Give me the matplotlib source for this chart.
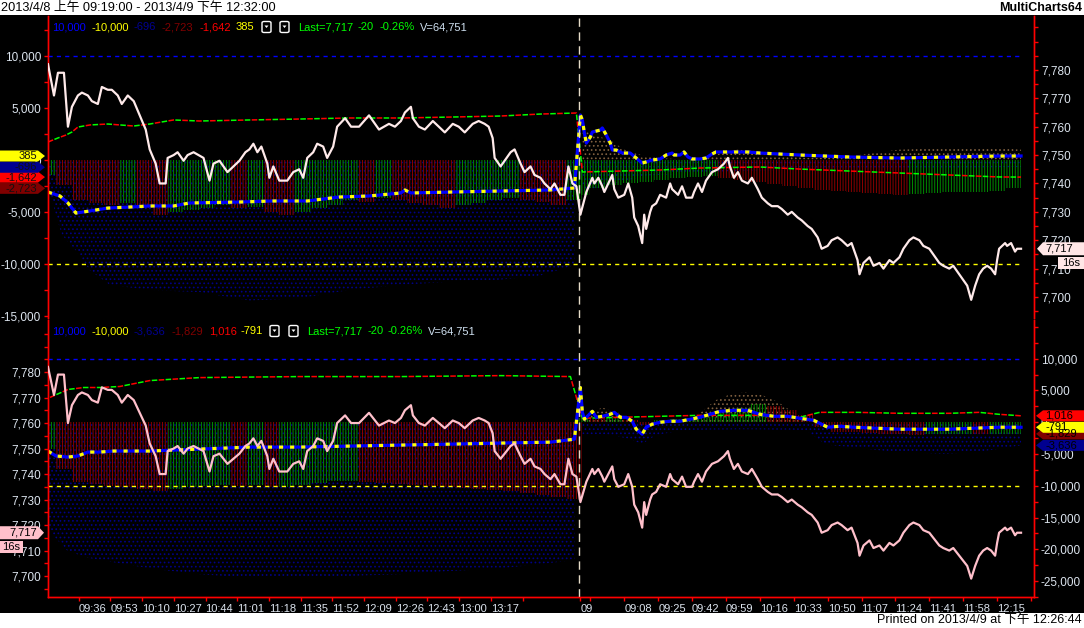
import numpy as np
import matplotlib
matplotlib.use("Agg")
import matplotlib.pyplot as plt
from matplotlib.patches import Polygon, Rectangle, FancyBboxPatch
from matplotlib.ticker import FuncFormatter

plt.rcParams["font.family"] = ["Liberation Sans", "Noto Sans CJK TC", "DejaVu Sans"]
plt.rcParams["hatch.linewidth"] = 0.7
plt.rcParams["lines.scale_dashes"] = False
plt.rcParams["axes.unicode_minus"] = False

# ------------------------------------------------------------------ data
# x = bar index (1-minute slots); day 1 = 2013/4/8 09:19-13:45, day 2 opens 08:45 at bar 266
DAY2_OPEN = 266
nan = np.nan

price_bar = [0, 3, 5, 8, 10, 12, 15, 17, 20, 22, 25, 27, 30, 32, 35, 37, 40, 43, 46, 49, 51, 54, 56, 59, 60,
             63, 65, 68, 70, 73, 78, 81, 83, 86, 90, 93, 96, 99, 101, 103, 105, 107, 110, 111, 113, 116, 120,
             123, 126, 128, 130, 133, 135, 138, 140, 143, 145, 149, 152, 156, 161, 166, 171, 174, 177, 179,
             182, 183, 186, 189, 193, 196, 199, 203, 206, 209, 213, 216, 219, 221, 223, 224, 227, 229, 232,
             234, 237, 239, 242, 244, 247, 249, 252, 254, 257, 259, 261, 263, 265,
             267, 270, 273, 274, 276, 278, 279, 281, 283, 284, 286, 289, 291, 293, 294, 296, 298, 299, 300,
             302, 303, 305, 307, 310, 312, 313, 316, 318, 320, 323, 324, 326, 328, 330, 333, 336, 339, 341,
             342, 344, 346, 348, 351, 353, 356, 358, 361, 363, 366, 368, 371, 373, 376, 378, 381, 383, 386,
             388, 391, 393, 396, 398, 401, 403, 406, 407, 409, 412, 414, 417, 419, 422, 424, 427, 429, 432,
             434, 437, 439, 442, 444, 447, 449, 452, 454, 457, 459, 461, 463, 465, 467, 469, 471, 473, 475,
             476, 477, 480, 481, 483, 485, 486, 488]
price = [7782, 7771, 7779, 7779, 7760, 7767, 7771, 7772, 7771, 7769, 7768, 7774, 7773, 7773, 7771, 7768, 7771,
         7769, 7764, 7759, 7752, 7747, 7740, 7740, 7749, 7750, 7751, 7748, 7750, 7751, 7749, 7741, 7747, 7748,
         7744, 7746, 7748, 7751, 7752, 7754, 7751, 7753, 7747, 7742, 7746, 7741, 7741, 7744, 7745, 7742, 7749,
         7751, 7754, 7753, 7749, 7753, 7760, 7763, 7760, 7760, 7764, 7759, 7761, 7760, 7762, 7765, 7767, 7763,
         7760, 7759, 7762, 7760, 7758, 7761, 7760, 7758, 7761, 7762, 7761, 7760, 7756, 7749, 7746, 7748, 7751,
         7752, 7747, 7744, 7746, 7743, 7742, 7740, 7738, 7740, 7736, 7736, 7746, 7740, 7739,
         7729, 7737, 7742, 7740, 7742, 7739, 7737, 7740, 7743, 7738, 7735, 7736, 7740, 7735, 7728, 7725, 7719,
         7729, 7724, 7730, 7732, 7733, 7736, 7735, 7740, 7738, 7736, 7739, 7735, 7735, 7737, 7740, 7737, 7741,
         7744, 7745, 7747, 7749, 7746, 7742, 7744, 7741, 7740, 7742, 7738, 7735, 7733, 7732, 7732, 7731, 7729,
         7730, 7728, 7727, 7725, 7724, 7721, 7717, 7718, 7720, 7721, 7720, 7718, 7719, 7713, 7708, 7712, 7714,
         7711, 7712, 7710, 7713, 7712, 7714, 7717, 7720, 7721, 7720, 7718, 7717, 7715, 7712, 7711, 7710, 7711,
         7708, 7706, 7704, 7699, 7704, 7708, 7710, 7711, 7710, 7708, 7713, 7717, 7719, 7718, 7719, 7716, 7717,
         7717]

hist_bar = list(range(0, 265, 8)) + list(range(268, 489, 8))

# ---- upper panel indicator (left scale)
up_hist = [-1400, -2400, -3800, -4100, -4300, -4100, -4600, -5300, -5000, -4800, -4600, -4300, -4600, -4500,
           -5000, -5300, -5000, -4600, -4300, -3800, -4000, -3700, -3800, -4100, -4300, -4600, -4300, -4100,
           -3800, -3700, -3800, -4000, -4300, -3800,
           -3400, -2700, -2400, -2200, -2100, -1900, -1700, -1600, -1500, -1700, -1900, -2100, -2300, -2500,
           -2700, -2900, -3000, -3100, -3200, -3300, -3400, -3300, -3200, -3100, -3100, -3100, -3000, -2723]
up_area_bar = [0, 4, 7, 14, 21, 31, 51, 76, 101, 126, 151, 177, 202, 227, 247, 264, 266,
               268, 300, 350, 400, 450, 488]
up_area = [-2400, -5300, -7200, -8700, -10600, -12000, -12500, -12700, -13500, -13300, -12500, -12000,
           -11700, -11500, -11100, -10100, nan, -3000, -1500, -1000, -900, -800, -696]
up_brown_bar = [268, 274, 282, 289, 297, 307, 320, 330, 345, 360, 380, 400, 427, 452, 477, 488]
up_brown = [2900, 2400, 1900, 1000, 500, 200, 0, 300, 1000, 800, 200, 300, 1000, 1150, 1150, 1000]
up_dash_bar = [0, 5, 9, 12, 15, 21, 30, 43, 51, 63, 76, 101, 126, 151, 177, 202, 227, 247, 265,
               268, 287, 307, 327, 357, 377, 402, 427, 452, 477, 488]
up_dash = [1730, 2120, 2400, 2690, 3170, 3370, 3460, 3270, 3460, 3850, 3750, 3850, 3940, 4040, 4040, 4130,
           4230, 4420, 4520, -1150, -1060, -960, -770, -670, -870, -1060, -1250, -1440, -1630, -1642]
up_avg_bar = [0, 6, 10, 14, 21, 30, 41, 51, 63, 71, 96, 113, 130, 138, 146, 161, 177, 179, 182, 202, 227, 252,
              264, 267, 268, 269, 270, 272, 273, 277, 278, 280, 282, 283, 285, 288, 292, 295, 298, 300, 303,
              307, 310, 313, 314, 317, 319, 321, 323, 327, 330, 333, 335, 341, 346, 351, 357, 377, 402, 427,
              452, 477, 488]
up_avg = [-3080, -3460, -4130, -5100, -4900, -4620, -4520, -4420, -4420, -4130, -4040, -3940, -3940, -3750,
          -3560, -3460, -3170, -2880, -3170, -3080, -2980, -2880, -2690,
          4330, 3850, 2600, 1630, 2210, 2690, 2880, 3080, 2400, 1630, 960, 960, 670, 670, 190, -290, -190, 0,
          100, 480, 670, 480, 480, 770, 290, 100, 100, 190, 580, 770, 770, 770, 770, 670, 480, 290, 190, 290,
          380, 385]

# ---- lower panel indicator (right scale)
lo_hist = [-4200, -7300, -9400, -9700, -10000, -10200, -10500, -10800, -10500, -10200, -10000, -9800,
           -10000, -9800, -10200, -10200, -9800, -9500, -9200, -9200, -9400, -9500, -9700, -9800, -10000,
           -10200, -10300, -10500, -10600, -10800, -11100, -11400, -11700, -12000,
           600, 500, 700, 400, -500, 300, 500, 600, 800, 1500, 2200, 2800, 2600, 2000, 1200, -800, -1500,
           -1600, -1700, -1800, -1900, -2000, -1900, -1800, -1800, -1900, -1850, -1829]
lo_area_bar = [0, 4, 10, 21, 36, 51, 76, 101, 126, 151, 177, 202, 227, 247, 264, 266,
               268, 280, 290, 298, 305, 320, 350, 380, 390, 420, 450, 470, 488]
lo_area = [-16700, -18300, -20300, -21400, -22200, -23000, -23900, -24500, -24500, -24200, -23900, -23400,
           -23000, -22300, -21700, nan, -1900, -1900, -2500, -3400, -2000, -1200, -1100, -1200, -3500,
           -4500, -5000, -4500, -3636]
lo_brown_bar = [268, 272, 278, 286, 292, 320, 327, 335, 343, 350, 358, 366, 374, 380]
lo_brown = [0, 1500, 2300, 1500, 0, 0, 1500, 3500, 4500, 4700, 4300, 3200, 1500, 0]
lo_dash_bar = [1, 10, 18, 26, 36, 51, 76, 126, 177, 227, 262,
               268, 287, 307, 327, 357, 377, 387, 406, 427, 452, 467, 477, 488]
lo_dash = [3910, 5160, 5470, 5470, 5630, 6560, 7030, 7190, 7190, 7340, 7190,
           630, 780, 940, 1090, 1090, 780, 1560, 1560, 1410, 1410, 1560, 1250, 1016]
lo_avg_bar = [0, 4, 10, 15, 20, 26, 33, 51, 76, 101, 126, 151, 177, 202, 227, 252, 264,
              267, 268, 269, 273, 275, 278, 282, 284, 287, 290, 293, 295, 298, 300, 303, 307, 312, 317, 322,
              327, 332, 337, 344, 351, 357, 364, 371, 377, 384, 391, 397, 404, 427, 452, 477, 488]
lo_avg = [-4530, -5310, -5470, -5310, -4690, -4690, -4530, -4530, -4220, -3910, -3910, -3750, -3590, -3440,
          -3280, -3130, -2660,
          5470, 1560, 470, 1720, 780, 940, 1250, 1560, 780, 780, 160, -1090, -1880, -780, -310, 0, 160, 160,
          470, 780, 1250, 1720, 1880, 1880, 1250, 940, 940, 630, 310, -780, -630, -780, -1090, -1090, -780,
          -791]

band_levels = [10000, -10000]

# time axis
day1_ticks = ["09:36", "09:53", "10:10", "10:27", "10:44", "11:01", "11:18", "11:35", "11:52", "12:09",
              "12:26", "12:43", "13:00", "13:17", "13:34"]
day2_ticks = ["08:46", "08:51", "09:08", "09:25", "09:42", "09:59", "10:16", "10:33", "10:50", "11:07",
              "11:24", "11:41", "11:58", "12:15", "12:32"]
day2_labels = ["09", "", "09:08", "09:25", "09:42", "09:59", "10:16", "10:33", "10:50", "11:07", "11:24",
               "11:41", "11:58", "12:15", ""]
day1_hidden = ["13:34"]

last_price = 7717
up_legend = ["10,000", "-10,000", "-696", "-2,723", "-1,642", "385"]
lo_legend = ["10,000", "-10,000", "-3,636", "-1,829", "1,016", "-791"]
quote = ["Last=7,717", "-20", "-0.26%", "V=64,751"]
up_flags = [(-2723, "-2,723"), (-1642, "-1,642"), (-696, "-696"), (385, "385")]
lo_flags = [(-3636, "-3,636"), (-1829, "-1,829"), (-791, "-791"), (1016, "1,016")]
title = "2013/4/8 上午 09:19:00 - 2013/4/9 下午 12:32:00"
printed = "Printed on 2013/4/9 at 下午 12:26:44"

# ------------------------------------------------------------------ style
W, H = 1084, 628
BLUE, YEL, NAVY, DRED, RED, GRN = "#0000ff", "#ffff00", "#000090", "#800000", "#ff0000", "#00ff00"
LBL = "#dce4ee"
FS = 8
fig = plt.figure(figsize=(W / 100, H / 100), dpi=100, facecolor="white")
fig.add_artist(Rectangle((0, 15 / H), 1, (613 - 15) / H, transform=fig.transFigure,
                         facecolor="black", edgecolor="none", zorder=-5))


def fr(x0, y0, x1, y1):
    return [x0 / W, 1 - y1 / H, (x1 - x0) / W, (y1 - y0) / H]


ax1 = fig.add_axes(fr(48, 16, 1034, 318))
ax2 = fig.add_axes(fr(48, 320, 1034, 597))
ax1p = ax1.twinx()
ax2p = ax2.twinx()
ax2.yaxis.tick_right()
ax2p.yaxis.tick_left()

XMAX = 494.5
ax1.set_ylim(-15190, 13846)
ax1p.set_ylim(7692.6, 7799.0)
ax2.set_ylim(-27188, 16094)
ax2p.set_ylim(7691.8, 7800.4)

fmt = FuncFormatter(lambda v, p: f"{v:,.0f}")
for a in (ax1, ax2, ax1p, ax2p):
    a.set_xlim(0, XMAX)
    a.set_facecolor("black")
    for s in a.spines.values():
        s.set_color(RED)
        s.set_linewidth(1)
    a.spines["top"].set_visible(False)
    a.yaxis.set_major_formatter(fmt)
    a.tick_params(axis="y", which="both", colors=RED, labelcolor=LBL, length=3, width=1,
                  pad=2, labelsize=8.5)
ax1p.patch.set_visible(False)
ax2p.patch.set_visible(False)
ax1.spines["bottom"].set_visible(False)
ax1p.spines["bottom"].set_visible(False)
ax1.set_yticks([10000, 5000, 0, -5000, -10000, -15000])
ax1.set_yticks(np.arange(-12500, 13000, 2500), minor=True)
ax1p.set_yticks(np.arange(7700, 7781, 10))
ax1p.set_yticks(np.arange(7695, 7796, 5), minor=True)
ax2.set_yticks(np.arange(-25000, 10001, 5000))
ax2.set_yticks(np.arange(-27500, 15001, 2500), minor=True)
ax2p.set_yticks(np.arange(7700, 7781, 10))
ax2p.set_yticks(np.arange(7695, 7796, 5), minor=True)
for a in (ax1, ax1p):
    a.tick_params(axis="x", bottom=False, labelbottom=False)
ax2p.tick_params(axis="x", bottom=False, labelbottom=False)


def tmin(t):
    h, m = t.split(":")
    return int(h) * 60 + int(m)


d1_pos = [15.4 + 15.9 * i for i in range(len(day1_ticks))]
d1_lab = ["" if t in day1_hidden else t for t in day1_ticks]
d2_pos = [DAY2_OPEN + tmin(t) - tmin("08:45") for t in day2_ticks]
ax2.set_xticks(d1_pos + d2_pos, d1_lab + day2_labels)
ax2.tick_params(axis="x", colors=RED, labelcolor=LBL, length=3, width=1, pad=2, labelsize=FS)
for lab in ax2.get_xticklabels():
    lab.set_ha("left")


def draw_panel(ax, hb, hv, ab, av, bb, bv, db, dv, mb, mv):
    ax.fill_between(ab, av, 0, facecolor="none", edgecolor="#000088", hatch="....", linewidth=0, zorder=1)
    ax.fill_between(bb, bv, 0, facecolor="none", edgecolor="#806040", hatch="....", linewidth=0,
                    zorder=1)
    cols = [("#008c00" if (i == 0 or hv[i] >= hv[i - 1]) else "#8c0000") for i in range(len(hv))]
    ax.bar(hb, hv, width=8, facecolor="none", edgecolor=cols, hatch="||||||", linewidth=0, zorder=2)
    for lvl, c in zip(band_levels, (BLUE, YEL)):
        ax.hlines(lvl, 0, 488, colors=c, linewidth=1, linestyles=(0, (3, 3)), zorder=3)
    ax.plot(db, dv, color=RED, lw=1.1, ls=(0, (4, 6)), zorder=4)
    ax.plot(db, dv, color=GRN, lw=1.1, ls=(5, (4, 6)), zorder=4)
    ax.plot(mb, mv, color=BLUE, lw=2.3, zorder=5, solid_joinstyle="round")
    ax.plot(mb, mv, color=YEL, lw=2.3, ls=(0, (3, 5)), zorder=6)
    ax.axvline(DAY2_OPEN + 0.3, color="#e6dcc8", lw=1, ls=(0, (6, 4)), zorder=7)


draw_panel(ax1, hist_bar, up_hist, up_area_bar, up_area, up_brown_bar, up_brown,
           up_dash_bar, up_dash, up_avg_bar, up_avg)
draw_panel(ax2, hist_bar, lo_hist, lo_area_bar, lo_area, lo_brown_bar, lo_brown,
           lo_dash_bar, lo_dash, lo_avg_bar, lo_avg)
ax1p.plot(price_bar, price, color="#ffeaea", lw=1.6, zorder=5)
ax2p.plot(price_bar, price, color="#ffc0cb", lw=1.6, zorder=5)

# ------------------------------------------------------------------ annotations


def ypx(ax, v):
    return H - ax.transData.transform((0, v))[1]


def poly(pts, fc):
    arr = np.array([(x / W, 1 - y / H) for x, y in pts])
    fig.add_artist(Polygon(arr, closed=True, transform=fig.transFigure, facecolor=fc,
                           edgecolor="none", zorder=5))


def flag_left(y, txt, fc, h=11, x0=1043, tip=1036, tc="black"):
    poly([(W, y - h / 2), (x0, y - h / 2), (tip, y), (x0, y + h / 2), (W, y + h / 2)], fc)
    fig.text((x0 + 2) / W, 1 - y / H, txt, color=tc, fontsize=FS, ha="left", va="center", zorder=6)


def box(x0, y0, x1, y1, fc, txt):
    poly([(x0, y0), (x1, y0), (x1, y1), (x0, y1)], fc)
    fig.text((x0 + x1) / 2 / W, 1 - (y0 + y1) / 2 / H, txt, color="black", fontsize=FS,
             ha="center", va="center", zorder=6)


flag_fc = {"-2,723": DRED, "-1,642": RED, "-696": NAVY, "385": YEL,
           "-3,636": NAVY, "-1,829": DRED, "-791": YEL, "1,016": RED}
for v, t in up_flags:
    y = ypx(ax1, v)
    poly([(0, y - 5.5), (38, y - 5.5), (45, y), (38, y + 5.5), (0, y + 5.5)], flag_fc[t])
    fig.text(37 / W, 1 - y / H, t, color="#101010", fontsize=FS, ha="right", va="center", zorder=6)
for v, t in lo_flags:
    flag_left(ypx(ax2, v), t, flag_fc[t])

yp = ypx(ax1p, last_price)
flag_left(yp, f"{last_price:,}", "#ffe6e6", h=13, tip=1037)
box(1058, yp + 8, 1084, yp + 20, "#ffe6e6", "16s")
yp2 = ypx(ax2p, last_price)
poly([(0, yp2 - 6.5), (38, yp2 - 6.5), (44, yp2), (38, yp2 + 6.5), (0, yp2 + 6.5)], "#ffc0cb")
fig.text(37 / W, 1 - yp2 / H, f"{last_price:,}", color="black", fontsize=FS, ha="right", va="center",
         zorder=6)
box(0, yp2 + 8, 23, yp2 + 20, "#ffc0cb", "16s")

# legends
leg_cols = [BLUE, YEL, NAVY, DRED, RED, YEL]
quote_cols = [GRN, GRN, GRN, "#cfe0f0"]


def legend(y, labels, xs, icon_xs, qxs):
    for t, c, x in zip(labels, leg_cols, xs):
        fig.text(x / W, 1 - y / H, t, color=c, fontsize=FS, ha="left", va="center")
    for x in icon_xs:
        fig.add_artist(FancyBboxPatch((x / W, 1 - (y + 5.5) / H), 9 / W, 11 / H,
                                      boxstyle="round,pad=0,rounding_size=0.002",
                                      transform=fig.transFigure, facecolor="black", edgecolor="white",
                                      linewidth=1, zorder=5))
        poly([(x + 2.5, y - 1.5), (x + 6.5, y - 1.5), (x + 4.5, y + 1)], "white")
    for t, c, x in zip(quote, quote_cols, qxs):
        fig.text(x / W, 1 - y / H, t, color=c, fontsize=FS, ha="left", va="center")


legend(27, up_legend, [52, 91, 133, 162, 199, 236], [262, 280], [298, 357, 380, 420])
legend(331, lo_legend, [52, 91, 133, 171, 209, 241], [270, 289], [307, 367, 388, 428])

fig.text(1 / W, 1 - 8 / H, title, color="black", fontsize=9.2, ha="left", va="center")
fig.text(1082 / W, 1 - 8 / H, "MultiCharts64", color="black", fontsize=9, fontweight="bold",
         ha="right", va="center")
fig.text(1082 / W, 1 - 620 / H, printed, color="black", fontsize=9, ha="right", va="center")

fig.savefig("out.png", dpi=100, facecolor="white")
